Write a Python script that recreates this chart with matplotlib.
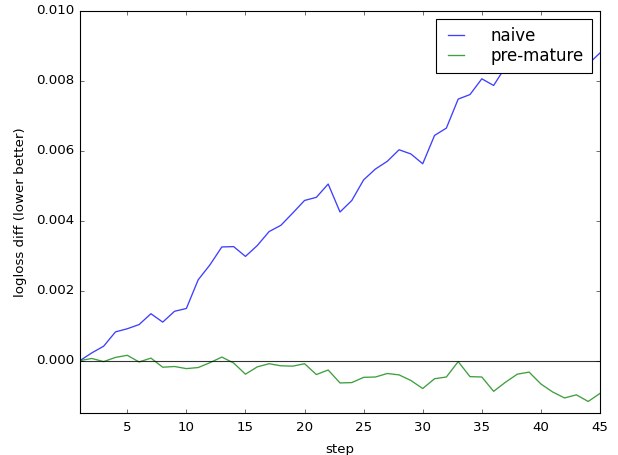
import numpy as np
import matplotlib
matplotlib.use("Agg")
import matplotlib.pyplot as plt

plt.style.use('classic')

# valeurs
steps = list(range(1, 46))
naive = [0.0, 0.00022, 0.00041, 0.00082, 0.00091, 0.00103, 0.00134, 0.00110, 0.00141, 0.00149,
         0.00231, 0.00274, 0.00325, 0.00326, 0.00298, 0.00329, 0.00369, 0.00387, 0.00422, 0.00458,
         0.00467, 0.00505, 0.00425, 0.00458, 0.00517, 0.00548, 0.00570, 0.00603, 0.00591, 0.00563,
         0.00644, 0.00665, 0.00748, 0.00761, 0.00806, 0.00787, 0.00840, 0.00860, 0.00880, 0.00855,
         0.00890, 0.00870, 0.00860, 0.00848, 0.00880]
premature = [0.0, 0.00006, -0.00003, 0.00009, 0.00015, -0.00004, 0.00007, -0.00019, -0.00017, -0.00023,
             -0.00020, -0.00006, 0.00010, -0.00007, -0.00039, -0.00018, -0.00009, -0.00015, -0.00016, -0.00009,
             -0.00040, -0.00027, -0.00064, -0.00063, -0.00048, -0.00047, -0.00037, -0.00041, -0.00057, -0.00080,
             -0.00052, -0.00047, -0.00003, -0.00046, -0.00047, -0.00088, -0.00062, -0.00039, -0.00033, -0.00067,
             -0.00090, -0.00107, -0.00098, -0.00117, -0.00094]

fig = plt.figure(figsize=(618/80, 455/80), dpi=80, facecolor='white')
ax = fig.add_axes([80/618, 42/455, 520/618, 402/455])

ax.plot(steps, naive, 'b', alpha=0.75, lw=1.2, label='naive')
ax.plot(steps, premature, 'g', alpha=0.75, lw=1.2, label='pre-mature')
ax.axhline(0, color='k', alpha=0.8)

ax.set_xlim(1, 45)
ax.set_ylim(-0.0015, 0.010)
ax.tick_params(axis='x', pad=7)
ax.tick_params(axis='y', pad=5)
ax.set_xlabel('step', labelpad=8)
ax.set_ylabel('logloss diff (lower better)', labelpad=8)
ax.legend(loc='upper right', fontsize=15, borderpad=0.45, labelspacing=0.15,
          handlelength=1.55, handletextpad=1.3)

fig.savefig('out.png', dpi=80, facecolor='white')
